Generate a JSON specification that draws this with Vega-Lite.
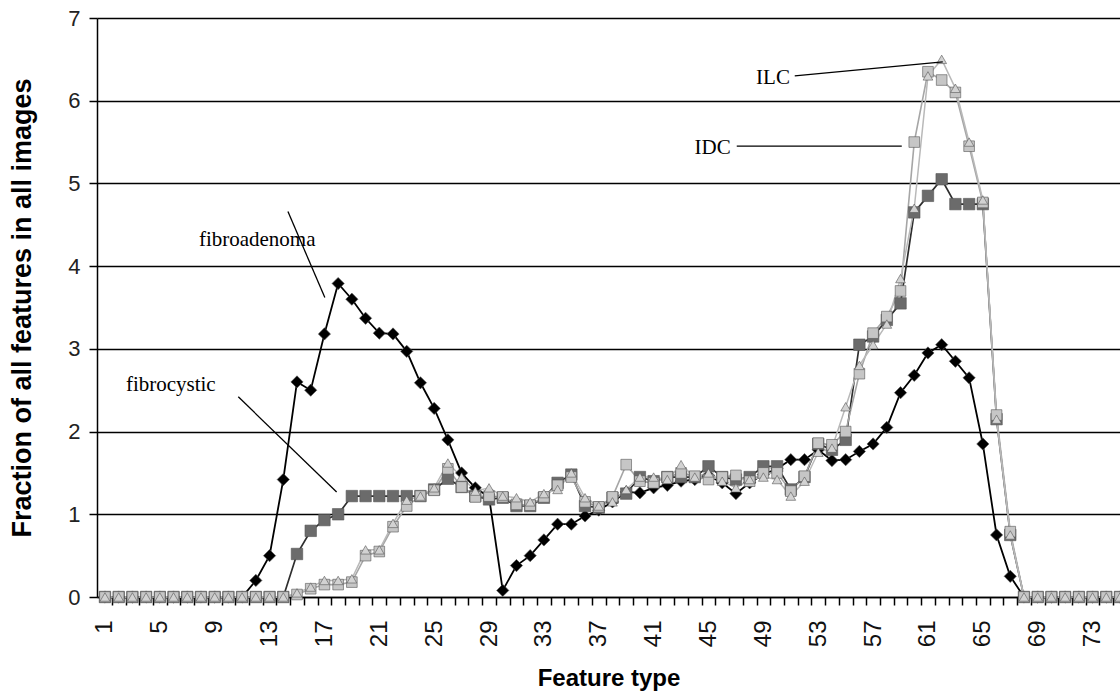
{
  "$schema": "https://vega.github.io/schema/vega-lite/v6.json",
  "width": 1023,
  "height": 579,
  "autosize": {"type": "none"},
  "padding": {"left": 97, "top": 18, "right": 0, "bottom": 103},
  "background": "white",
  "view": {"stroke": null},
  "config": {"font": "Liberation Sans"},
  "datasets": {
    "series": [
      {"f":1,"fa":0,"fc":0,"idc":0,"ilc":0},
      {"f":2,"fa":0,"fc":0,"idc":0,"ilc":0},
      {"f":3,"fa":0,"fc":0,"idc":0,"ilc":0},
      {"f":4,"fa":0,"fc":0,"idc":0,"ilc":0},
      {"f":5,"fa":0,"fc":0,"idc":0,"ilc":0},
      {"f":6,"fa":0,"fc":0,"idc":0,"ilc":0},
      {"f":7,"fa":0,"fc":0,"idc":0,"ilc":0},
      {"f":8,"fa":0,"fc":0,"idc":0,"ilc":0},
      {"f":9,"fa":0,"fc":0,"idc":0,"ilc":0},
      {"f":10,"fa":0,"fc":0,"idc":0,"ilc":0},
      {"f":11,"fa":0,"fc":0,"idc":0,"ilc":0},
      {"f":12,"fa":0.2,"fc":0,"idc":0,"ilc":0},
      {"f":13,"fa":0.5,"fc":0,"idc":0,"ilc":0},
      {"f":14,"fa":1.42,"fc":0,"idc":0,"ilc":0},
      {"f":15,"fa":2.6,"fc":0.52,"idc":0.03,"ilc":0.05},
      {"f":16,"fa":2.5,"fc":0.8,"idc":0.1,"ilc":0.12},
      {"f":17,"fa":3.18,"fc":0.93,"idc":0.15,"ilc":0.2},
      {"f":18,"fa":3.79,"fc":1.0,"idc":0.15,"ilc":0.2},
      {"f":19,"fa":3.6,"fc":1.22,"idc":0.18,"ilc":0.22},
      {"f":20,"fa":3.37,"fc":1.22,"idc":0.5,"ilc":0.57},
      {"f":21,"fa":3.19,"fc":1.22,"idc":0.55,"ilc":0.57},
      {"f":22,"fa":3.18,"fc":1.22,"idc":0.85,"ilc":0.89},
      {"f":23,"fa":2.97,"fc":1.22,"idc":1.1,"ilc":1.17},
      {"f":24,"fa":2.59,"fc":1.22,"idc":1.22,"ilc":1.22},
      {"f":25,"fa":2.28,"fc":1.3,"idc":1.29,"ilc":1.32},
      {"f":26,"fa":1.9,"fc":1.43,"idc":1.55,"ilc":1.62},
      {"f":27,"fa":1.5,"fc":1.33,"idc":1.33,"ilc":1.45},
      {"f":28,"fa":1.32,"fc":1.22,"idc":1.21,"ilc":1.28},
      {"f":29,"fa":1.21,"fc":1.18,"idc":1.22,"ilc":1.32},
      {"f":30,"fa":0.08,"fc":1.2,"idc":1.21,"ilc":1.22},
      {"f":31,"fa":0.38,"fc":1.1,"idc":1.12,"ilc":1.2},
      {"f":32,"fa":0.5,"fc":1.1,"idc":1.11,"ilc":1.15},
      {"f":33,"fa":0.69,"fc":1.2,"idc":1.21,"ilc":1.25},
      {"f":34,"fa":0.88,"fc":1.38,"idc":1.35,"ilc":1.3},
      {"f":35,"fa":0.88,"fc":1.48,"idc":1.45,"ilc":1.5},
      {"f":36,"fa":0.98,"fc":1.1,"idc":1.15,"ilc":1.2},
      {"f":37,"fa":1.05,"fc":1.08,"idc":1.09,"ilc":1.1},
      {"f":38,"fa":1.15,"fc":1.2,"idc":1.21,"ilc":1.15},
      {"f":39,"fa":1.27,"fc":1.25,"idc":1.6,"ilc":1.3},
      {"f":40,"fa":1.26,"fc":1.45,"idc":1.4,"ilc":1.45},
      {"f":41,"fa":1.32,"fc":1.4,"idc":1.38,"ilc":1.45},
      {"f":42,"fa":1.35,"fc":1.45,"idc":1.45,"ilc":1.42},
      {"f":43,"fa":1.4,"fc":1.45,"idc":1.5,"ilc":1.6},
      {"f":44,"fa":1.42,"fc":1.45,"idc":1.46,"ilc":1.45},
      {"f":45,"fa":1.47,"fc":1.58,"idc":1.42,"ilc":1.5},
      {"f":46,"fa":1.38,"fc":1.45,"idc":1.45,"ilc":1.4},
      {"f":47,"fa":1.25,"fc":1.42,"idc":1.47,"ilc":1.32},
      {"f":48,"fa":1.38,"fc":1.45,"idc":1.4,"ilc":1.42},
      {"f":49,"fa":1.48,"fc":1.58,"idc":1.5,"ilc":1.45},
      {"f":50,"fa":1.55,"fc":1.58,"idc":1.5,"ilc":1.42},
      {"f":51,"fa":1.66,"fc":1.3,"idc":1.28,"ilc":1.22},
      {"f":52,"fa":1.66,"fc":1.45,"idc":1.46,"ilc":1.4},
      {"f":53,"fa":1.78,"fc":1.85,"idc":1.86,"ilc":1.75},
      {"f":54,"fa":1.65,"fc":1.78,"idc":1.84,"ilc":1.8},
      {"f":55,"fa":1.66,"fc":1.9,"idc":2.0,"ilc":2.3},
      {"f":56,"fa":1.76,"fc":3.05,"idc":2.7,"ilc":2.8},
      {"f":57,"fa":1.85,"fc":3.15,"idc":3.19,"ilc":3.05},
      {"f":58,"fa":2.05,"fc":3.35,"idc":3.39,"ilc":3.3},
      {"f":59,"fa":2.47,"fc":3.55,"idc":3.7,"ilc":3.85},
      {"f":60,"fa":2.68,"fc":4.65,"idc":5.5,"ilc":4.7},
      {"f":61,"fa":2.95,"fc":4.85,"idc":6.35,"ilc":6.3},
      {"f":62,"fa":3.05,"fc":5.05,"idc":6.25,"ilc":6.5},
      {"f":63,"fa":2.85,"fc":4.75,"idc":6.1,"ilc":6.15},
      {"f":64,"fa":2.65,"fc":4.75,"idc":5.45,"ilc":5.5},
      {"f":65,"fa":1.85,"fc":4.75,"idc":4.77,"ilc":4.8},
      {"f":66,"fa":0.75,"fc":2.15,"idc":2.2,"ilc":2.15},
      {"f":67,"fa":0.25,"fc":0.75,"idc":0.79,"ilc":0.75},
      {"f":68,"fa":0,"fc":0,"idc":0,"ilc":0},
      {"f":69,"fa":0,"fc":0,"idc":0,"ilc":0},
      {"f":70,"fa":0,"fc":0,"idc":0,"ilc":0},
      {"f":71,"fa":0,"fc":0,"idc":0,"ilc":0},
      {"f":72,"fa":0,"fc":0,"idc":0,"ilc":0},
      {"f":73,"fa":0,"fc":0,"idc":0,"ilc":0},
      {"f":74,"fa":0,"fc":0,"idc":0,"ilc":0},
      {"f":75,"fa":0,"fc":0,"idc":0,"ilc":0}
    ],
    "notes": [
      {"f": 12.1, "v": 4.32, "label": "fibroadenoma"},
      {"f": 5.8, "v": 2.56, "label": "fibrocystic"},
      {"f": 45.3, "v": 5.43, "label": "IDC"},
      {"f": 49.7, "v": 6.28, "label": "ILC"}
    ],
    "leaders": [
      {"f": 14.34, "v": 4.66, "f2": 17.03, "v2": 3.62},
      {"f": 10.72, "v": 2.42, "f2": 17.89, "v2": 1.27},
      {"f": 47.06, "v": 5.45, "f2": 59.09, "v2": 5.45},
      {"f": 51.29, "v": 6.3, "f2": 62.08, "v2": 6.47}
    ]
  },
  "encoding": {
    "x": {
      "field": "f",
      "type": "quantitative",
      "title": "Feature type",
      "scale": {"domain": [0.42, 75], "nice": false, "zero": false},
      "axis": {
        "values": [1,2,3,4,5,6,7,8,9,10,11,12,13,14,15,16,17,18,19,20,21,22,23,24,25,26,27,28,29,30,31,32,33,34,35,36,37,38,39,40,41,42,43,44,45,46,47,48,49,50,51,52,53,54,55,56,57,58,59,60,61,62,63,64,65,66,67,68,69,70,71,72,73,74,75],
        "labelExpr": "(datum.value - 1) % 4 == 0 ? datum.label : ''",
        "labelAngle": 270,
        "labelAlign": "right",
        "labelBaseline": "middle",
        "labelFontSize": 24,
        "labelColor": "#111",
        "labelPadding": 15,
        "labelOverlap": false,
        "labelFlush": false,
        "tickSize": 8,
        "tickColor": "#000",
        "tickWidth": 1.5,
        "tickOffset": 6.86,
        "labelOffset": -6.86,
        "domainColor": "#000",
        "domainWidth": 1.5,
        "grid": false,
        "titleFontSize": 24,
        "titleFontWeight": "bold",
        "titleColor": "#000",
        "titlePadding": 20
      }
    },
    "y": {
      "field": "v",
      "type": "quantitative",
      "title": "Fraction of all features in all images",
      "scale": {"domain": [0, 7], "nice": false},
      "axis": {
        "values": [0,1,2,3,4,5,6,7],
        "labelFontSize": 22,
        "labelColor": "#222",
        "labelPadding": 9,
        "tickSize": 8,
        "tickColor": "#000",
        "tickWidth": 1.5,
        "domainColor": "#000",
        "domainWidth": 1.5,
        "grid": true,
        "gridColor": "#000",
        "gridWidth": 1.5,
        "titleFontSize": 27,
        "titleFontWeight": "bold",
        "titleColor": "#000",
        "titlePadding": 31
      }
    }
  },
  "layer": [
    {
      "data": {"name": "series"},
      "transform": [{"fold": ["fa", "fc", "idc", "ilc"], "as": ["s", "v"]}],
      "mark": {"type": "line"},
      "encoding": {
        "stroke": {"field": "s", "type": "nominal", "scale": {"domain": ["fa", "fc", "idc", "ilc"], "range": ["#000000", "#2e2e2e", "#a6a6a6", "#b9b9b9"]}, "legend": null},
        "strokeWidth": {"field": "s", "type": "nominal", "scale": {"domain": ["fa", "fc", "idc", "ilc"], "range": [1.8, 1.5, 1.3, 1.3]}, "legend": null}
      }
    },
    {
      "data": {"name": "series"},
      "transform": [{"fold": ["fa", "fc", "idc", "ilc"], "as": ["s", "v"]}],
      "mark": {"type": "point", "filled": true, "opacity": 1, "stroke": "#555", "strokeWidth": 0.6},
      "encoding": {
        "shape": {"field": "s", "type": "nominal", "scale": {"domain": ["fa", "fc", "idc", "ilc"], "range": ["diamond", "square", "square", "triangle-up"]}, "legend": null},
        "fill": {"field": "s", "type": "nominal", "scale": {"domain": ["fa", "fc", "idc", "ilc"], "range": ["#000000", "#6b6b6b", "#c6c6c6", "#d2d2d2"]}, "legend": null},
        "size": {"field": "s", "type": "nominal", "scale": {"domain": ["fa", "fc", "idc", "ilc"], "range": [150, 95, 85, 80]}, "legend": null}
      }
    },
    {
      "data": {"name": "leaders"},
      "mark": {"type": "rule", "color": "#000", "strokeWidth": 1.3},
      "encoding": {
        "x2": {"field": "f2"},
        "y2": {"field": "v2"}
      }
    },
    {
      "data": {"name": "notes"},
      "mark": {"type": "text", "font": "Liberation Serif", "fontSize": 21, "color": "#000", "align": "center", "baseline": "middle"},
      "encoding": {
        "text": {"field": "label", "type": "nominal"}
      }
    }
  ]
}
